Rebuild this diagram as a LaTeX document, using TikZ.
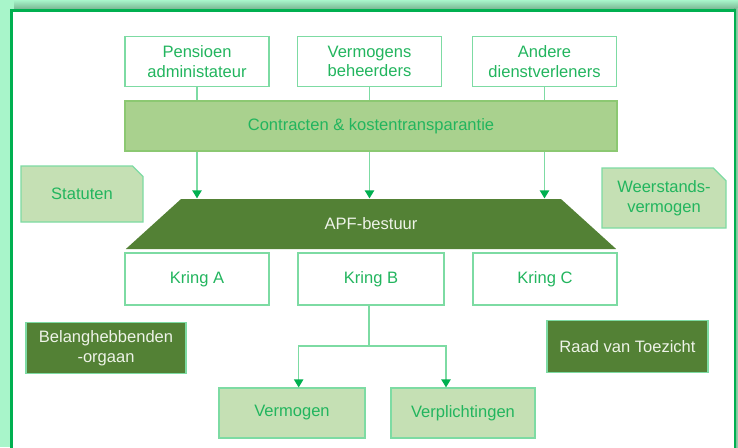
\documentclass[tikz,border=0pt]{standalone}
\usepackage{fontspec}
\setmainfont{Liberation Sans}
\usetikzlibrary{arrows.meta,shapes.geometric,shapes.misc}

\definecolor{mint}{HTML}{A8F5CA}
\definecolor{framegreen}{HTML}{00B050}
\definecolor{shadowg}{HTML}{6FA886}
\definecolor{txtgreen}{HTML}{22B55E}
\definecolor{lineg}{HTML}{7DDBA3}
\definecolor{barline}{HTML}{8CC872}
\definecolor{barfill}{HTML}{A9D18E}
\definecolor{lightfill}{HTML}{C5E0B4}
\definecolor{darkfill}{HTML}{538135}
\definecolor{paletxt}{HTML}{EEF3E8}

\begin{document}
\begin{tikzpicture}[x=0.75pt, y=-0.75pt,
  base/.style={font=\fontsize{12.4}{14.6}\selectfont, align=center, inner sep=0pt, line width=0.9pt},
  whitebox/.style={base, draw=lineg, fill=white, text=txtgreen, minimum width=108pt, minimum height=37pt},
  barbox/.style={base, draw=barline, fill=barfill, text=txtgreen, minimum width=369pt, minimum height=37.5pt},
  lightbox/.style={base, draw=lineg, fill=lightfill, text=txtgreen, minimum height=37.5pt},
  notebox/.style={lightbox, chamfered rectangle, chamfered rectangle corners=north east, chamfered rectangle xsep=6pt},
  darkbox/.style={base, draw=lineg, fill=darkfill, text=paletxt, minimum height=38.5pt},
  link/.style={draw=lineg, line width=0.9pt},
  arrowlink/.style={link, -{Triangle[length=6pt, width=7pt, color=framegreen]}}]

\useasboundingbox (0,0) rectangle (738,447);
\fill[mint] (0,0) rectangle (738,447);

% shadow and panel
\shade[top color=mint, bottom color=shadowg] (14,0) rectangle (738,11);
\shade[left color=shadowg, right color=mint!70!shadowg] (734,8) rectangle (738,447);
\draw[framegreen, line width=2pt, fill=white] (11.5,10.5) rectangle (735,470);

% service providers
\node[whitebox] (pens) at (197,61.5) {Pensioen\\administateur};
\node[whitebox] (verm) at (369.5,61.5) {Vermogens\\beheerders};
\node[whitebox] (andere) at (544.5,61.5) {Andere\\dienstverleners};

\node[barbox] (bar) at (371,126) {Contracten \& kostentransparantie};

% board
\node[base, trapezium, trapezium stretches=true, trapezium left angle=42, trapezium right angle=42,
      minimum width=369pt, minimum height=37.5pt, fill=darkfill, text=paletxt] (apf) at (371,224) {APF-bestuur};

\foreach \src in {pens, verm, andere} {
  \draw[link] (\src.south) -- (\src.south |- bar.north);
  \draw[arrowlink] (\src.south |- bar.south) -- (\src.south |- apf.north);
}

% kringen
\node[whitebox, minimum height=39pt] (kringA) at (197,279) {Kring A};
\node[whitebox, minimum height=39pt, minimum width=109.5pt] (kringB) at (371,279) {Kring B};
\node[whitebox, minimum height=39pt] (kringC) at (545,279) {Kring C};

% side notes
\node[notebox, minimum width=91.5pt, minimum height=42pt] (statuten) at (82,194) {Statuten};
\node[notebox, minimum width=93pt, minimum height=45pt] (weer) at (664,198) {Weerstands-\\vermogen};

\node[darkbox, minimum width=120pt] (belang) at (106,348) {Belanghebbenden\\-orgaan};
\node[darkbox, minimum width=120.75pt] (raad) at (627.5,346.5) {Raad van Toezicht};

% vermogen en verplichtingen
\node[lightbox, minimum width=109.5pt] (vermogen) at (292,413) {Vermogen};
\node[lightbox, minimum width=108pt] (verpl) at (463,413) {Verplichtingen};

\coordinate (split) at (369,346);
\draw[link] (kringB.south -| split) -- (split);
\draw[arrowlink] (split) -| ([xshift=5pt]vermogen.north);
\draw[arrowlink] (split) -| ([xshift=-12.75pt]verpl.north);
\end{tikzpicture}
\end{document}
